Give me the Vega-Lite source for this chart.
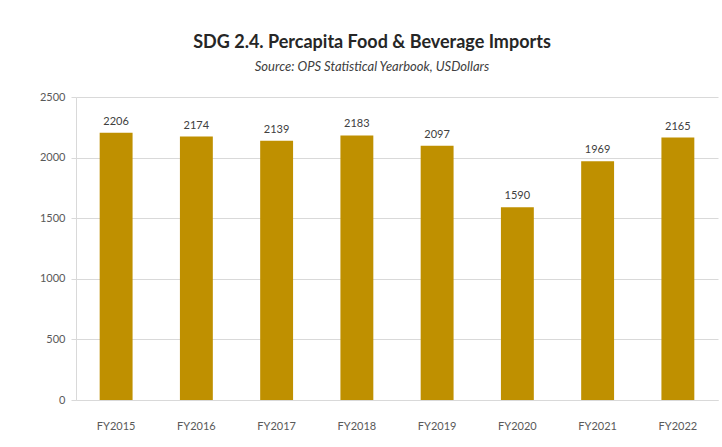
{
  "$schema": "https://vega.github.io/schema/vega-lite/v6.json",
  "autosize": {"type": "none"},
  "width": 642,
  "height": 303,
  "padding": {"left": 76, "top": 97, "right": 4, "bottom": 47},
  "background": "white",
  "title": {
    "text": "SDG 2.4. Percapita Food & Beverage Imports",
    "subtitle": "Source: OPS Statistical Yearbook, USDollars",
    "anchor": "middle",
    "dx": -25,
    "offset": 17,
    "font": "Lato",
    "fontSize": 18,
    "fontWeight": "bold",
    "color": "#262626",
    "subtitleFont": "Lato",
    "subtitleFontSize": 13,
    "subtitleFontStyle": "italic",
    "subtitleColor": "#404040",
    "subtitlePadding": 9
  },
  "data": {
    "values": [
      {"year": "FY2015", "value": 2206},
      {"year": "FY2016", "value": 2174},
      {"year": "FY2017", "value": 2139},
      {"year": "FY2018", "value": 2183},
      {"year": "FY2019", "value": 2097},
      {"year": "FY2020", "value": 1590},
      {"year": "FY2021", "value": 1969},
      {"year": "FY2022", "value": 2165}
    ]
  },
  "encoding": {
    "x": {
      "field": "year",
      "type": "nominal",
      "sort": null,
      "scale": {"paddingInner": 0.59, "paddingOuter": 0.295},
      "axis": {
        "title": null,
        "labelAngle": 0,
        "labelFont": "Lato",
        "labelFontSize": 11,
        "labelColor": "#595959",
        "labelPadding": 20,
        "ticks": false,
        "domainColor": "#d9d9d9"
      }
    },
    "y": {
      "field": "value",
      "type": "quantitative",
      "scale": {"domain": [0, 2500]},
      "axis": {
        "title": null,
        "values": [0, 500, 1000, 1500, 2000, 2500],
        "format": "d",
        "labelFont": "Lato",
        "labelFontSize": 11,
        "labelColor": "#595959",
        "labelPadding": 6,
        "tickSize": 5,
        "tickColor": "#d9d9d9",
        "gridColor": "#d9d9d9",
        "domainColor": "#d9d9d9"
      }
    }
  },
  "layer": [
    {"mark": {"type": "bar", "color": "#BF9000"}},
    {
      "mark": {"type": "text", "dy": -11, "font": "Lato", "fontSize": 11, "color": "#404040"},
      "encoding": {"text": {"field": "value", "type": "quantitative", "format": "d"}}
    }
  ],
  "config": {"view": {"stroke": null}}
}
